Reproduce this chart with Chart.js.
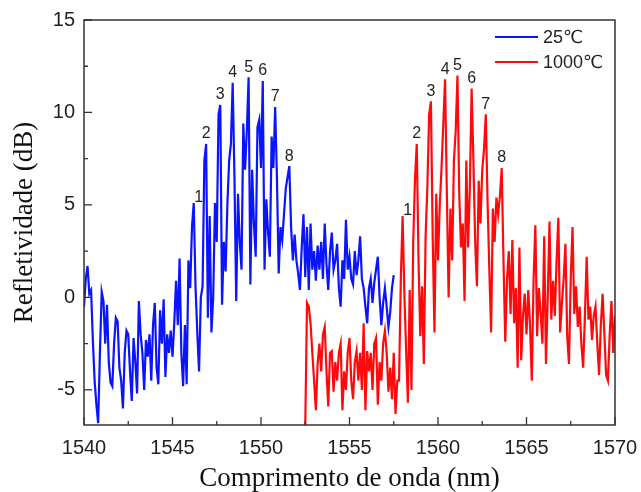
<!DOCTYPE html>
<html>
<head>
<meta charset="utf-8">
<script src="https://cdn.jsdelivr.net/npm/chart.js@4"></script>
<style>
html, body { margin: 0; padding: 0; background: #fff; }
</style>
</head>
<body>
<canvas id="mainChart" width="641" height="492"></canvas>
<script>
// wavelength grid (nm): each series is sampled every 0.1 nm from its start
const blueStart = 1540.0;
const redStart = 1552.5;
const step = 0.1;

// 25 C spectrum, 1540.0 .. 1557.5 nm (one row per nm)
const blueValues = [
    -0.5, 1.0, 1.7, 0.2, 0.4, -2.3, -4.5, -5.8, -6.8, -3.0,
    0.3, -0.2, -2.5, -0.4, -3.5, -4.6, -4.8, -2.5, -1.1, -1.3,
    -3.8, -4.5, -6.0, -3.0, -1.8, -2.0, -4.0, -5.6, -2.2, -3.5,
    -5.2, -0.2, -2.0, -3.0, -5.0, -2.3, -3.2, -2.0, -4.5, -1.5,
    -0.3, -3.8, -4.7, -0.7, -2.5, -0.1, -4.3, -2.0, -3.0, -1.8,
    -3.2, -1.4, 0.9, -1.5, 2.1, -3.0, -4.8, -1.5, -4.7, 2.0,
    0.5, 3.8, 5.1, 0.6, -1.9, -4.0, 0.0, 0.6, 7.4, 8.3,
    -1.1, 4.4, -1.9, 0.0, 5.1, 3.0, 9.9, 10.4, -0.4, 3.0,
    1.4, 5.0, 7.4, 8.3, 11.6, 6.5, -0.2, 5.6, 3.0, 1.5,
    9.4, 6.9, 9.0, 11.9, 0.7, 6.9, 4.0, 2.2, 9.2, 9.6,
    7.0, 11.7, 1.5, 5.3, 3.5, 2.2, 8.7, 7.0, 10.3, 6.5,
    1.3, 3.8, 3.1, 4.5, 5.9, 6.5, 7.1, 3.8, 2.0, 3.4,
    2.0, 1.3, 0.4, 2.7, 4.5, 1.1, 3.8, 0.4, 4.0, 1.5,
    2.5, 0.9, 2.8, 1.5, 3.0, 1.0, 4.0, 1.8, 0.4, 2.5,
    3.5, 1.5, 2.0, 2.9, 0.5, -0.5, 2.0, 1.0, 4.2, 1.5,
    2.2, 1.0, 0.7, 2.5, 1.2, 2.0, 3.3, 1.0, 0.5, -0.5,
    -1.4, 0.5, 1.0, -0.3, 0.8, 1.5, 2.2, 0.0, -1.5, -0.3,
    0.5, -0.5, -1.6, -0.8, 0.5, 1.2
];

// 1000 C spectrum, 1552.5 .. 1570.0 nm
const redValues = [
    -7.0, -0.3, -0.5, -1.4, -3.0,
    -4.5, -6.1, -3.6, -2.5, -4.0, -2.0, -1.6, -4.0, -5.9, -3.0,
    -2.9, -5.1, -3.5, -4.5, -3.0, -2.5, -6.1, -4.0, -5.0, -3.0,
    -2.2, -4.5, -5.5, -3.5, -2.9, -4.5, -3.0, -5.0, -1.4, -6.1,
    -2.9, -4.0, -3.0, -5.0, -2.5, -2.2, -5.8, -3.5, -4.5, -2.5,
    -1.8, -3.0, -5.1, -3.8, -5.5, -3.0, -6.3, -4.5, -4.5, 1.0,
    4.4, 0.2, -2.9, -5.7, 0.4, -5.0, 3.0, 6.4, 8.3, 2.0,
    -2.1, 0.6, -3.6, 3.3, 6.0, 9.9, 10.6, 3.3, -1.9, 5.6,
    2.0, 5.0, 7.0, 9.4, 11.8, 5.6, 0.0, 4.8, 2.0, 7.4,
    9.0, 12.0, 5.6, 2.7, 4.0, -0.2, 7.4, 2.7, 6.0, 11.3,
    7.4, 3.0, 0.6, 6.3, 4.0, 6.9, 8.0, 9.9, 5.2, 1.5,
    -1.9, 4.8, 3.0, 5.4, 4.5, 5.5, 7.0, 2.0, -2.4, 1.0,
    2.5, -0.9, 3.1, -1.4, 0.5, -3.8, 2.7, -3.4, -1.0, 0.2,
    -2.0, 0.4, -1.5, -4.5, 1.0, 3.9, -2.1, 0.5, -0.9, -2.5,
    3.3, -3.6, 0.0, 4.1, -1.2, 0.9, -1.0, 2.0, 4.3, -1.9,
    -0.3, 1.0, 2.9, -2.1, -3.6, 1.0, 3.8, -0.9, 0.6, -1.6,
    -0.5, -2.5, -3.8, -1.0, 2.2, -1.2, -0.5, -2.3, -1.0, -0.5,
    -2.5, -4.2, -1.5, 0.2, -2.0, -4.2, -4.5, -2.0, -0.2, -3.0,
    -1.0
];

// numbered peaks (nm)
const bluePeaks = [1546.2, 1546.9, 1547.7, 1548.4, 1549.3, 1550.1, 1550.8, 1551.6];
const redPeaks = [1558.0, 1558.8, 1559.6, 1560.4, 1561.1, 1561.9, 1562.7, 1563.6];
const peakNames = ["1", "2", "3", "4", "5", "6", "7", "8"];

const seriesNames = ["25\u2103", "1000\u2103"];
const xTicks = [1540, 1545, 1550, 1555, 1560, 1565, 1570];
const yTicks = [-5, 0, 5, 10, 15];

function toPoints(start, values) {
    return values.map((v, i) => ({ x: +(start + i * step).toFixed(1), y: v }));
}

function valueAt(start, values, wl) {
    return values[Math.round((wl - start) / step)];
}

const sans = "'Liberation Sans', 'DejaVu Sans', Arial, sans-serif";
const serif = "'Liberation Serif', 'DejaVu Serif', serif";

const framePlugin = {
    id: "frame",
    afterDatasetsDraw(chart) {
        const { ctx, chartArea: a, scales } = chart;
        const x = scales.x, y = scales.y;
        ctx.save();
        ctx.strokeStyle = "#333";
        ctx.lineWidth = 1.5;
        ctx.strokeRect(a.left, a.top, a.right - a.left, a.bottom - a.top);

        // inward ticks, major every 5, minor every 2.5
        ctx.lineWidth = 1.3;
        ctx.beginPath();
        for (let v = 1540; v <= 1570; v += 2.5) {
            const px = x.getPixelForValue(v);
            const len = v % 5 === 0 ? 8 : 4;
            ctx.moveTo(px, a.bottom);
            ctx.lineTo(px, a.bottom - len);
        }
        for (let v = -5; v <= 15; v += 2.5) {
            const py = y.getPixelForValue(v);
            const len = v % 5 === 0 ? 8 : 4;
            ctx.moveTo(a.left, py);
            ctx.lineTo(a.left + len, py);
        }
        ctx.stroke();

        // peak numbers
        ctx.fillStyle = "#222";
        ctx.font = "16px " + sans;
        ctx.textAlign = "center";
        ctx.textBaseline = "middle";
        const groups = [[blueStart, blueValues, bluePeaks], [redStart, redValues, redPeaks]];
        groups.forEach(([start, values, peaks]) => {
            peaks.forEach((wl, k) => {
                const px = x.getPixelForValue(wl);
                const py = y.getPixelForValue(valueAt(start, values, wl));
                if (k === 0) ctx.fillText(peakNames[k], px + 5, py - 5);
                else ctx.fillText(peakNames[k], px, py - 10);
            });
        });

        // legend
        ctx.font = "18px " + sans;
        ctx.textAlign = "left";
        chart.data.datasets.forEach((ds, i) => {
            const ly = a.top + 17 + i * 25;
            ctx.strokeStyle = ds.borderColor;
            ctx.lineWidth = 2;
            ctx.beginPath();
            ctx.moveTo(a.right - 120, ly);
            ctx.lineTo(a.right - 77, ly);
            ctx.stroke();
            ctx.fillStyle = "#222";
            ctx.fillText(ds.label, a.right - 72, ly + 1);
        });
        ctx.restore();
    }
};

const ctx = document.getElementById("mainChart").getContext("2d");

window.chart = new Chart(ctx, {
    type: "line",
    data: {
        datasets: [{
            label: seriesNames[0],
            data: toPoints(blueStart, blueValues),
            borderColor: "#0a14ff",
            borderWidth: 2.2,
            pointRadius: 0,
            tension: 0
        }, {
            label: seriesNames[1],
            data: toPoints(redStart, redValues),
            borderColor: "#ff0a0a",
            borderWidth: 2.2,
            pointRadius: 0,
            tension: 0
        }]
    },
    options: {
        responsive: false,
        animation: false,
        events: [],
        layout: { padding: { top: 20, right: 26, left: 0, bottom: 0 } },
        plugins: { legend: { display: false }, tooltip: { enabled: false } },
        scales: {
            x: {
                type: "linear",
                min: 1540,
                max: 1570,
                afterBuildTicks: s => { s.ticks = xTicks.map(v => ({ value: v })); },
                afterFit: s => { s.height = 67; s.paddingLeft = 0; s.paddingRight = 0; },
                grid: { display: false, drawTicks: false },
                border: { display: false },
                ticks: {
                    font: { family: sans, size: 20 },
                    color: "#222",
                    padding: 11,
                    maxRotation: 0,
                    autoSkip: false,
                    callback: v => String(v)
                },
                title: {
                    display: true,
                    text: "Comprimento de onda (nm)",
                    font: { family: serif, size: 27, lineHeight: 1 },
                    color: "#111",
                    padding: { top: 0, bottom: 0 }
                }
            },
            y: {
                min: -6.9,
                max: 15,
                afterBuildTicks: s => { s.ticks = yTicks.map(v => ({ value: v })); },
                afterFit: s => { s.width = 84; s.paddingTop = 0; s.paddingBottom = 0; },
                grid: { display: false, drawTicks: false },
                border: { display: false },
                ticks: {
                    font: { family: sans, size: 20 },
                    color: "#222",
                    padding: 9,
                    callback: v => String(v)
                },
                title: {
                    display: true,
                    text: "Refletividade (dB)",
                    font: { family: serif, size: 27, lineHeight: 1 },
                    color: "#111",
                    padding: { top: 11, bottom: 0 }
                }
            }
        }
    },
    plugins: [framePlugin]
});
</script>
</body>
</html>
